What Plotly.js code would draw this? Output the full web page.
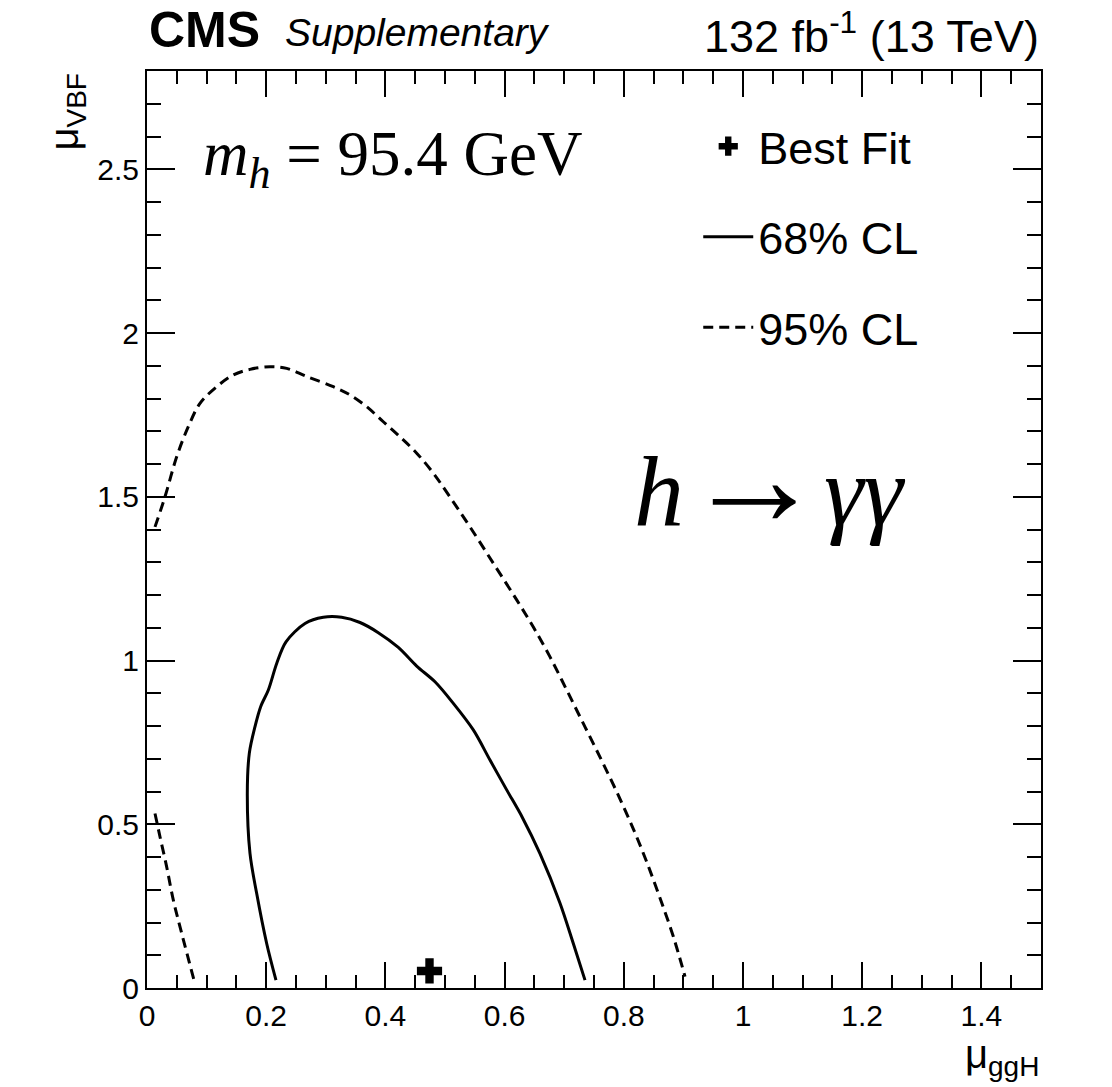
<!DOCTYPE html>
<html>
<head>
<meta charset="utf-8">
<script src="https://cdn.plot.ly/plotly-3.0.1.min.js"></script>
<style>
  html, body { margin: 0; padding: 0; background: #ffffff; }
  #plot { width: 1112px; height: 1087px; }
</style>
</head>
<body>
<div id="plot"></div>
<script>
// Best-fit signal strengths (mu_ggH, mu_VBF)
const bestFitGgH = [0.474];
const bestFitVBF = [0.052];

// 68% CL contour (-2 dlnL = 2.30)
const cl68GgH = [0.2164, 0.2008, 0.184, 0.1728, 0.1683, 0.1717, 0.1812, 0.1907, 0.2036, 0.2176,
                 0.2332, 0.2651, 0.2958, 0.3266, 0.3574, 0.3881, 0.4217, 0.4525, 0.4832, 0.514,
                 0.5475, 0.5755, 0.6035, 0.630, 0.6594, 0.693, 0.7153, 0.7349];
const cl68VBF = [0.024, 0.136, 0.289, 0.411, 0.594, 0.717, 0.798, 0.859, 0.910, 0.991,
                 1.057, 1.113, 1.132, 1.132, 1.116, 1.085, 1.040, 0.983, 0.935, 0.869,
                 0.788, 0.696, 0.605, 0.520, 0.410, 0.259, 0.136, 0.024];

// 95% CL contour (-2 dlnL = 5.99): outer arc, then the small piece near mu_ggH = 0
const cl95GgH = [0.0134, 0.0302, 0.0498, 0.0693, 0.0889, 0.117, 0.1448, 0.1728, 0.2064, 0.2344,
                 0.268, 0.3126, 0.3406, 0.3686, 0.3965, 0.4245, 0.4525, 0.4804, 0.5084, 0.5419,
                 0.5810, 0.6203, 0.6482, 0.6762, 0.7042, 0.7320, 0.7601, 0.7881, 0.8159, 0.8384,
                 0.8607, 0.8831, 0.9027,
                 null,
                 0.0134, 0.0218, 0.033, 0.0441, 0.0582, 0.0789];
const cl95VBF = [1.408, 1.500, 1.622, 1.714, 1.785, 1.836, 1.872, 1.889, 1.897, 1.892,
                 1.867, 1.836, 1.811, 1.775, 1.729, 1.683, 1.633, 1.572, 1.499, 1.408,
                 1.297, 1.185, 1.102, 1.011, 0.910, 0.808, 0.705, 0.599, 0.486, 0.385,
                 0.275, 0.157, 0.035,
                 null,
                 0.533, 0.462, 0.370, 0.269, 0.167, 0.024];

// Axis tick labels
const xTickVals = [0, 0.2, 0.4, 0.6, 0.8, 1, 1.2, 1.4];
const xTickText = ['0', '0.2', '0.4', '0.6', '0.8', '1', '1.2', '1.4'];
const yTickVals = [0, 0.5, 1, 1.5, 2, 2.5];
const yTickText = ['0', '0.5', '1', '1.5', '2', '2.5'];

const SANS = 'Liberation Sans, Arial, Helvetica, sans-serif';
const SERIF = 'Liberation Serif, Times New Roman, Times, serif';

const traces = [
  {
    x: bestFitGgH, y: bestFitVBF, type: 'scatter', mode: 'markers',
    name: 'Best Fit', legendgroup: 'bf',
    marker: { symbol: 'cross', size: 21, color: '#000000', line: { width: 0 } },
    hoverinfo: 'skip'
  },
  {
    x: cl68GgH, y: cl68VBF, type: 'scatter', mode: 'lines',
    name: '68% CL', legendgroup: 'c68',
    line: { color: '#000000', width: 3, shape: 'spline', smoothing: 0.9 },
    hoverinfo: 'skip'
  },
  {
    x: cl95GgH, y: cl95VBF, type: 'scatter', mode: 'lines',
    name: '95% CL', legendgroup: 'c95', connectgaps: false,
    line: { color: '#000000', width: 3, dash: '10px,6px', shape: 'spline', smoothing: 1.0 },
    hoverinfo: 'skip'
  }
];

const axisCommon = {
  showgrid: false, zeroline: false,
  showline: true, linecolor: '#000000', linewidth: 2, mirror: 'ticks',
  ticks: 'inside', tickcolor: '#000000', tickwidth: 2,
  tickfont: { family: SANS, size: 30, color: '#000000' },
  fixedrange: true
};

const layout = {
  width: 1112, height: 1087,
  margin: { l: 147, r: 71, t: 71, b: 99, pad: 0 },
  paper_bgcolor: '#ffffff', plot_bgcolor: '#ffffff',
  hovermode: false,
  xaxis: Object.assign({}, axisCommon, {
    range: [0, 1.5],
    tickmode: 'array', tickvals: xTickVals, ticktext: xTickText,
    ticklen: 26,
    minor: { dtick: 0.05, tick0: 0, ticks: 'inside', ticklen: 13, tickwidth: 2, tickcolor: '#000000', showgrid: false }
  }),
  yaxis: Object.assign({}, axisCommon, {
    range: [0, 2.8],
    tickmode: 'array', tickvals: yTickVals, ticktext: yTickText,
    ticklen: 28,
    minor: { dtick: 0.1, tick0: 0, ticks: 'inside', ticklen: 14, tickwidth: 2, tickcolor: '#000000', showgrid: false }
  }),
  showlegend: true,
  legend: {
    x: 0.6166, y: 0.957, xanchor: 'left', yanchor: 'top',
    bgcolor: 'rgba(0,0,0,0)', borderwidth: 0,
    font: { family: SANS, size: 45, color: '#000000' },
    itemwidth: 50, tracegroupgap: 29, traceorder: 'grouped'
  },
  annotations: [
    { text: '<b>CMS</b>', xref: 'paper', yref: 'paper', x: 0, y: 1.045,
      xanchor: 'left', yanchor: 'middle', showarrow: false,
      font: { family: SANS, size: 50, color: '#000000' } },
    { text: '<i>Supplementary</i>', xref: 'paper', yref: 'paper', x: 0.152, y: 1.042,
      xanchor: 'left', yanchor: 'middle', showarrow: false,
      font: { family: SANS, size: 39, color: '#000000' } },
    { text: '132 fb<sup>-1</sup> (13 TeV)', xref: 'paper', yref: 'paper', x: 1, y: 1.041,
      xanchor: 'right', yanchor: 'middle', showarrow: false,
      font: { family: SANS, size: 45, color: '#000000' } },
    { text: '<i>m</i><sub><i>h</i></sub> = 95.4 GeV', xref: 'paper', yref: 'paper', x: 0.06, y: 0.905,
      xanchor: 'left', yanchor: 'middle', showarrow: false,
      font: { family: SERIF, size: 63, color: '#000000' } },
    { text: '<i>h</i><span style="font-size:140px">→</span><i>γγ</i>', xref: 'paper', yref: 'paper', x: 0.543, y: 0.557,
      xanchor: 'left', yanchor: 'middle', showarrow: false,
      font: { family: SERIF, size: 100, color: '#000000' } },
    { text: 'μ<sub>VBF</sub>', xref: 'paper', yref: 'paper', x: -0.09, y: 1.0,
      xanchor: 'center', yanchor: 'top', textangle: -90, showarrow: false,
      font: { family: SANS, size: 40, color: '#000000' } },
    { text: 'μ<sub>ggH</sub>', xref: 'paper', yref: 'paper', x: 1.0, y: -0.046,
      xanchor: 'right', yanchor: 'top', showarrow: false,
      font: { family: SANS, size: 40, color: '#000000' } }
  ]
};

Plotly.newPlot('plot', traces, layout, { displayModeBar: false, staticPlot: true });
</script>
</body>
</html>
